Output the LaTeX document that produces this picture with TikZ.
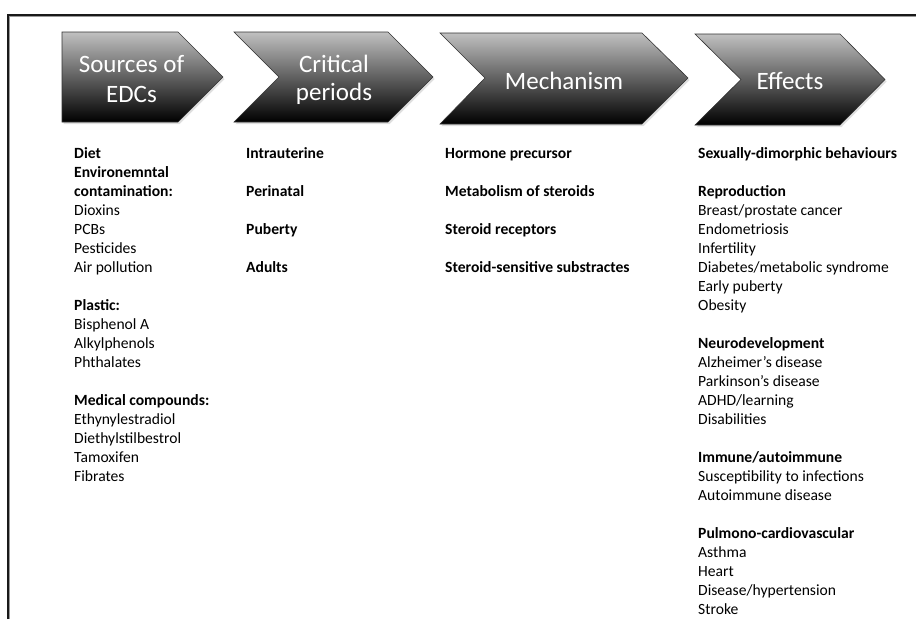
\documentclass[tikz,border=0pt]{standalone}
\usepackage{fontspec}
\setmainfont{Carlito}
\usetikzlibrary{shadows}
\begin{document}
\begin{tikzpicture}[x=1pt,y=-1pt,
  chev/.style={draw=black!80, line width=0.6pt, top color={rgb,255:red,192;green,192;blue,192}, bottom color=black,
     drop shadow={opacity=0.25, shadow xshift=1.5pt, shadow yshift=-2pt}},
  ttl/.style={text=white, align=center, inner sep=0pt, anchor=base, font=\fontsize{25}{30}\selectfont},
  col/.style={anchor=north west, align=left, inner sep=0pt, text=black, font=\fontsize{15.6}{19}\selectfont}]
\useasboundingbox (0,0) rectangle (916,619);
\fill[white] (0,0) rectangle (916,619);
% frame
\draw[black!40, line width=1.5pt] (9.5,619) -- (9.5,16.5) -- (916,16.5);
\draw[black!90, line width=1.1pt] (8,619) -- (8,15) -- (916,15);
% chevrons
\path[chev] (62,32) -- (178,32) -- (223,77) -- (178,122) -- (62,122) -- cycle;
\path[chev] (234,32) -- (388,32) -- (433,77) -- (388,122) -- (234,122) -- (279,77) -- cycle;
\path[chev] (440,33) -- (642,33) -- (688,78) -- (642,124) -- (440,124) -- (485,78) -- cycle;
\path[chev] (695,34) -- (840,34) -- (885,79.5) -- (840,125) -- (695,125) -- (741,79.5) -- cycle;
% titles
\node[ttl] (t1a) at (131.5,72) {Sources of};
\node[ttl] (t1b) at (131.5,102) {EDCs};
\node[ttl] (t2a) at (334,72) {Critical};
\node[ttl] (t2b) at (334,100) {periods};
\node[ttl] (t3) at (564,89) {Mechanism};
\node[ttl] (t4) at (790,89) {Effects};
% columns
\node[col] (c1) at (74,144.7) {\strut\textbf{Diet}\\
\textbf{Environemntal}\\
\textbf{contamination:}\\
Dioxins\\
PCBs\\
Pesticides\\
Air pollution\\[19pt]
\textbf{Plastic:}\\
Bisphenol A\\
Alkylphenols\\
Phthalates\\[19pt]
\textbf{Medical compounds:}\\
Ethynylestradiol\\
Diethylstilbestrol\\
Tamoxifen\\
Fibrates};
\node[col] (c2) at (246,144.7) {\strut\textbf{Intrauterine}\\[19pt]
\textbf{Perinatal}\\[19pt]
\textbf{Puberty}\\[19pt]
\textbf{Adults}};
\node[col] (c3) at (445,144.7) {\strut\textbf{Hormone precursor}\\[19pt]
\textbf{Metabolism of steroids}\\[19pt]
\textbf{Steroid receptors}\\[19pt]
\textbf{Steroid-sensitive substractes}};
\node[col] (c4) at (698,144.7) {\strut\textbf{Sexually-dimorphic behaviours}\\[19pt]
\textbf{Reproduction}\\
Breast/prostate cancer\\
Endometriosis\\
Infertility\\
Diabetes/metabolic syndrome\\
Early puberty\\
Obesity\\[19pt]
\textbf{Neurodevelopment}\\
Alzheimer’s disease\\
Parkinson’s disease\\
ADHD/learning\\
Disabilities\\[19pt]
\textbf{Immune/autoimmune}\\
Susceptibility to infections\\
Autoimmune disease\\[19pt]
\textbf{Pulmono-cardiovascular}\\
Asthma\\
Heart\\
Disease/hypertension\\
Stroke};
\end{tikzpicture}
\end{document}
